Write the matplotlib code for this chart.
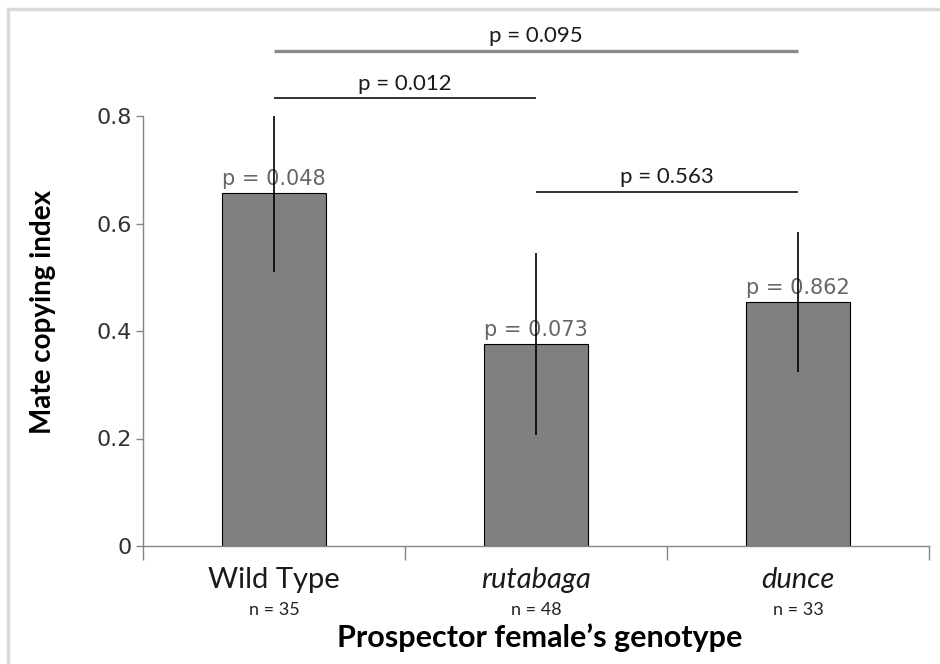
import matplotlib.pyplot as plt
from matplotlib.patches import Rectangle

# data
genotypes = ["Wild Type", "rutabaga", "dunce"]
italic_label = [False, True, True]
sample_sizes = [35, 48, 33]
copying_index = [0.657, 0.376, 0.454]
index_error = [0.147, 0.169, 0.13]
bar_p_values = ["0.048", "0.073", "0.862"]

# pairwise comparisons: (first group, second group, p value)
pair_groups = [(0, 2), (0, 1), (1, 2)]
pair_p_values = ["0.095", "0.012", "0.563"]

# layout of the comparison brackets (data units, above the bars)
bracket_heights = [0.921, 0.833, 0.659]
bracket_colors = ["#8a8a8a", "#222222", "#222222"]
bracket_widths = [2.4, 1.3, 1.3]

fig = plt.figure(figsize=(9.4, 6.64), dpi=100)
ax = fig.add_axes([143 / 940, 118 / 664, 786 / 940, 430 / 664])

x = range(len(genotypes))
ax.bar(x, copying_index, width=0.4, color="#808080", edgecolor="black",
       linewidth=0.8, zorder=2)
ax.errorbar(x, copying_index, yerr=index_error, fmt="none", ecolor="black",
            elinewidth=1.2, capsize=0, zorder=3)

for xi, val, p in zip(x, copying_index, bar_p_values):
    ax.annotate(f"p = {p}", (xi, val), xytext=(0, 3), textcoords="offset points",
                ha="center", va="bottom", fontsize=15, color="#666666",
                family="DejaVu Sans", zorder=1)

for (a, b), p, h, c, lw in zip(pair_groups, pair_p_values, bracket_heights,
                               bracket_colors, bracket_widths):
    ax.plot([a, b], [h, h], color=c, linewidth=lw, clip_on=False,
            solid_capstyle="butt")
    ax.text((a + b) / 2, h + 0.027, f"p = {p}", ha="center", va="center",
            fontsize=16, color="#1a1a1a", family="Lato", clip_on=False)

ax.set_xlim(-0.5, 2.5)
ax.set_ylim(0, 0.8)
ax.set_yticks([0, 0.2, 0.4, 0.6, 0.8])
ax.set_yticklabels(["0", "0.2", "0.4", "0.6", "0.8"])
ax.tick_params(axis="y", labelsize=16, labelcolor="#333333", color="#868686",
               length=5, width=1, pad=3)

ax.set_xticks([-0.5, 0.5, 1.5, 2.5], minor=True)
ax.set_xticks(list(x))
ax.set_xticklabels(genotypes)
for lbl, it in zip(ax.get_xticklabels(), italic_label):
    lbl.set_family("Lato")
    lbl.set_fontsize(21)
    lbl.set_color("#1a1a1a")
    if it:
        lbl.set_style("italic")
ax.tick_params(axis="x", which="major", length=0, pad=15)
ax.tick_params(axis="x", which="minor", length=10, color="#868686", width=1)

for xi, n in zip(x, sample_sizes):
    ax.text(xi, -0.119, f"n = {n}", ha="center", va="center", fontsize=13,
            family="Lato", color="#222222", clip_on=False)

fig.text(540 / 940, 1 - 638 / 664, "Prospector female\u2019s genotype",
         ha="center", va="center", fontsize=22, fontweight="bold",
         family="Lato")
fig.text(43 / 940, 1 - 312 / 664, "Mate copying index", rotation=90,
         ha="center", va="center", fontsize=20, fontweight="bold",
         family="Lato")

for side in ["top", "right"]:
    ax.spines[side].set_visible(False)
for side in ["left", "bottom"]:
    ax.spines[side].set_color("#868686")
    ax.spines[side].set_linewidth(1)

fig.patches.append(Rectangle((8 / 940, -0.1), 1.5, 1.1 - 9 / 664,
                             transform=fig.transFigure, fill=False,
                             edgecolor="#d9d9d9", linewidth=2.5))

fig.savefig("out.png", dpi=100)
